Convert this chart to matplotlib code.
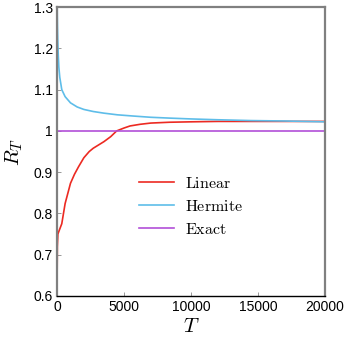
import matplotlib
matplotlib.use("Agg")
import matplotlib.pyplot as plt
from matplotlib.ticker import FuncFormatter

# values
T_linear = [0, 20, 60, 150, 350, 600, 1000, 1300, 1600, 2000, 2400, 2700, 3100,
            3500, 4000, 4450, 5000, 5450, 6200, 7000, 8400, 10000, 12000, 15000, 20000]
R_linear = [0.64, 0.72, 0.75, 0.758, 0.775, 0.824, 0.873, 0.895, 0.913, 0.935, 0.950,
            0.958, 0.966, 0.974, 0.986, 1.0, 1.007, 1.012, 1.016, 1.019, 1.021, 1.022,
            1.023, 1.023, 1.023]
T_hermite = [0, 15, 30, 50, 80, 130, 200, 350, 600, 1000, 1500, 2000, 2700, 3500,
             4500, 5700, 7000, 8400, 10000, 12000, 14500, 17000, 20000]
R_hermite = [1.32, 1.28, 1.25, 1.22, 1.19, 1.155, 1.13, 1.10, 1.083, 1.068, 1.058,
             1.052, 1.047, 1.043, 1.039, 1.036, 1.033, 1.031, 1.029, 1.027, 1.025,
             1.024, 1.022]
T_exact = [0, 20000]
R_exact = [1.0, 1.0]

plt.rcParams["mathtext.fontset"] = "cm"
plt.rcParams["font.family"] = ["Liberation Sans", "DejaVu Sans"]

fig = plt.figure(figsize=(3.46, 3.39), dpi=100)
ax = fig.add_axes([0.165, 0.127, 0.774, 0.852])

ax.plot(T_linear, R_linear, color="#ec2a22", lw=1.2, label=r"$\mathrm{Linear}$")
ax.plot(T_hermite, R_hermite, color="#5ebde9", lw=1.2, label=r"$\mathrm{Hermite}$")
ax.plot(T_exact, R_exact, color="#b24fd8", lw=1.2, label=r"$\mathrm{Exact}$")

ax.set_xlim(0, 20000)
ax.set_ylim(0.6, 1.3)
ax.set_xticks([0, 5000, 10000, 15000, 20000])
ax.set_yticks([0.6, 0.7, 0.8, 0.9, 1.0, 1.1, 1.2, 1.3])
ax.yaxis.set_major_formatter(FuncFormatter(lambda v, p: f"{v:g}"))
ax.tick_params(direction="in", length=3, width=0.6, color="#888888",
               labelsize=10, pad=3, top=False, right=False)

for s in ["left", "top", "right"]:
    ax.spines[s].set_color("#808080")
    ax.spines[s].set_linewidth(1.6)
ax.spines["bottom"].set_color("#000000")
ax.spines["bottom"].set_linewidth(1.0)

ax.set_xlabel(r"$T$", fontsize=15, labelpad=2)
ax.set_ylabel(r"$R_T$", fontsize=15, labelpad=6)

ax.legend(loc="center", bbox_to_anchor=(0.50, 0.31), frameon=False,
          fontsize=11.5, handlelength=2.2, handletextpad=0.7, labelspacing=0.5)

fig.savefig("out.png", facecolor="white")
